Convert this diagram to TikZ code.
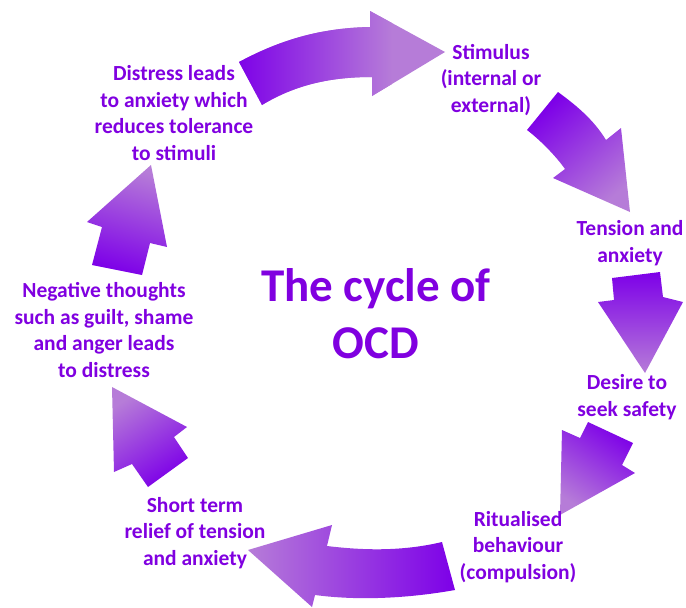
\documentclass[tikz,border=0pt]{standalone}
\usepackage{fontspec}
\setmainfont{Carlito}
\definecolor{ocdtext}{RGB}{128,0,224}
\definecolor{arrdark}{RGB}{125,0,232}
\definecolor{arrlight}{RGB}{182,124,216}
\begin{document}
\begin{tikzpicture}[x=1pt,y=-1pt,
  lbl/.style={text=ocdtext, font=\bfseries\fontsize{21.5}{26.5}\selectfont, align=center, inner sep=0pt},
  ttl/.style={text=ocdtext, font=\bfseries\fontsize{47}{57}\selectfont, align=center, inner sep=0pt},
  arr/.style={top color=arrlight, bottom color=arrdark, shading angle=#1}]
\useasboundingbox (0,0) rectangle (686,608);
% arrows
\begin{scope}
\clip (239,62) .. controls (280,40) and (320,28) .. (370,27) -- (370,11) -- (445,52) -- (372,96) -- (372,77) .. controls (330,77) and (295,85) .. (262,105) -- cycle;
\fill[arrlight] (230,5) rectangle (450,110);
\shade[left color=arrdark, right color=arrlight] (236,5) rectangle (392,110);
\end{scope}
\shade[arr=-140] (558,92) .. controls (580,108) and (595,122) .. (606,140) -- (621,128) -- (630,212) -- (553,178) -- (565,169) .. controls (555,155) and (540,140) .. (527,130) -- cycle;
\shade[arr=180] (612,278) -- (660,272) -- (663,297) -- (683,302) -- (645,373) -- (598,302) -- (614,300) -- cycle;
\shade[arr=146] (588,422) -- (633,443) -- (622,465) -- (635,473) -- (560,515) -- (562,430) -- (580,438) -- cycle;
\shade[arr=90] (442,542) .. controls (400,552) and (360,550) .. (327,546) -- (332,525) -- (248,550) -- (312,607) -- (315,595) .. controls (360,601) and (410,598) .. (455,590) -- cycle;
\shade[arr=33] (112,387) -- (187,427) -- (174,437) -- (188,458) -- (148,487) -- (132,464) -- (114,472) -- cycle;
\shade[arr=-16] (151,165) -- (167,247) -- (150,243) -- (142,275) -- (92,265) -- (102,227) -- (87,222) -- cycle;
% labels
\node[ttl] (title) at (376,314) {The cycle of\\OCD};
\node[lbl] (stim) at (491,80) {Stimulus\\(internal or\\external)};
\node[lbl] (tens) at (630,243) {Tension and\\anxiety};
\node[lbl] (desire) at (627,397) {Desire to\\seek safety};
\node[lbl] (ritual) at (518,547) {Ritualised\\behaviour\\(compulsion)};
\node[lbl] (relief) at (195,533) {Short term\\relief of tension\\and anxiety};
\node[lbl] (neg) at (104,330) {Negative thoughts\\such as guilt, shame\\and anger leads\\to distress};
\node[lbl] (distress) at (174,113) {Distress leads\\to anxiety which\\reduces tolerance\\to stimuli};
\end{tikzpicture}
\end{document}
